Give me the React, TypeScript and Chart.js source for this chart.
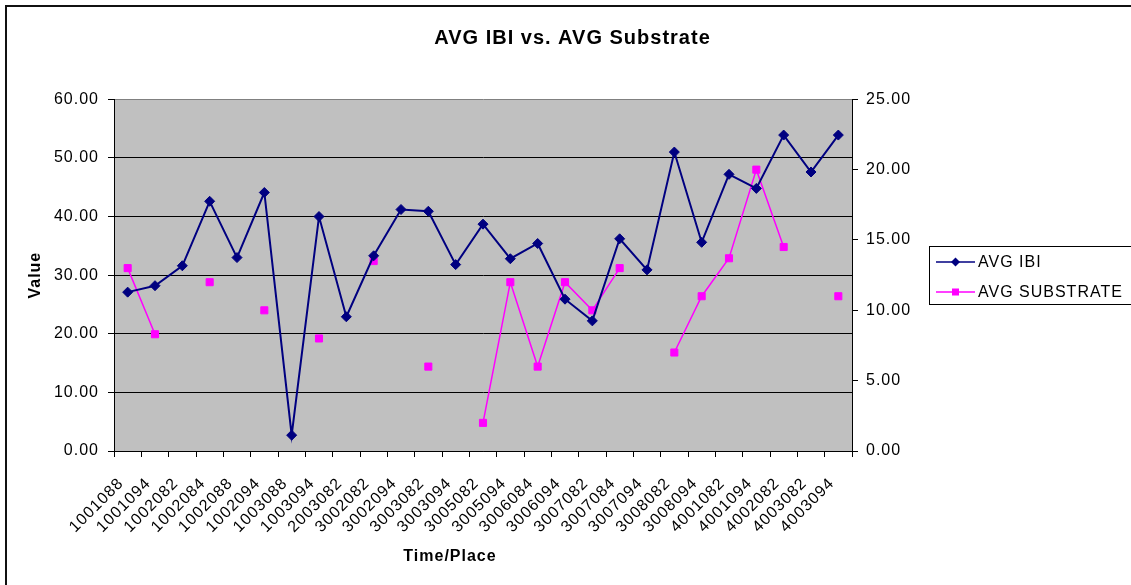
import React, { useEffect, useRef } from "react";
import { Chart, registerables } from "chart.js";

Chart.register(...registerables);

const categories = [
  "1001088", "1001094", "1002082", "1002084", "1002088", "1002094", "1003088",
  "1003094", "2003082", "3002082", "3002094", "3003082", "3003094", "3005082",
  "3005094", "3006084", "3006094", "3007082", "3007084", "3007094", "3008082",
  "3008094", "4001082", "4001094", "4002082", "4003082", "4003094",
];

const avgIbi = [
  27.1, 28.2, 31.6, 42.6, 33.0, 44.1, 2.7, 40.0, 22.9, 33.3, 41.2, 40.9, 31.8, 38.7,
  32.8, 35.4, 25.9, 22.2, 36.2, 30.9, 51.0, 35.6, 47.2, 44.8, 53.9, 47.6, 53.9,
];

const avgSubstrate: (number | null)[] = [
  13.0, 8.3, null, 12.0, null, 10.0, null, 8.0, null, 13.5, null, 6.0, null, 2.0,
  12.0, 6.0, 12.0, 10.0, 13.0, null, 7.0, 11.0, 13.7, 20.0, 14.5, null, 11.0,
];

const leftTicks = { min: 0, max: 60, step: 10 };
const rightTicks = { min: 0, max: 25, step: 5 };

const TITLE = "AVG IBI vs. AVG Substrate";
const X_TITLE = "Time/Place";
const Y_TITLE = "Value";
const FONT = "'Liberation Sans', Arial, sans-serif";
const W = 1131;
const H = 585;

const decor = {
  id: "decor",
  beforeDraw(chart: any) {
    const { ctx, chartArea: a } = chart;
    ctx.letterSpacing = "1px";
    ctx.save();
    ctx.fillStyle = "#ffffff";
    ctx.fillRect(0, 0, W, H);
    ctx.fillStyle = "#C0C0C0";
    ctx.fillRect(a.left, a.top, a.right - a.left, a.bottom - a.top);
    ctx.restore();
  },
  afterDraw(chart: any) {
    const { ctx } = chart;
    ctx.save();
    // outer chart border
    ctx.strokeStyle = "#111";
    ctx.lineWidth = 2;
    ctx.strokeRect(6, 6, 2000, 2000);
    // x axis title
    ctx.fillStyle = "#000";
    ctx.font = `bold 16px ${FONT}`;
    ctx.textAlign = "center";
    ctx.textBaseline = "middle";
    ctx.fillText(X_TITLE, 450, 557);
    // legend
    const bx = 929.5, by = 246.5, bw = 210, bh = 58;
    ctx.fillStyle = "#fff";
    ctx.fillRect(bx, by, bw, bh);
    ctx.strokeStyle = "#000";
    ctx.lineWidth = 1;
    ctx.strokeRect(bx, by, bw, bh);
    const rows = [262, 292];
    chart.data.datasets.forEach((ds: any, i: number) => {
      const y = rows[i];
      ctx.strokeStyle = ds.borderColor;
      ctx.lineWidth = 1.5;
      ctx.beginPath();
      ctx.moveTo(936, y);
      ctx.lineTo(975, y);
      ctx.stroke();
      ctx.fillStyle = ds.borderColor;
      if (ds.pointStyle === "rectRot") {
        ctx.beginPath();
        ctx.moveTo(955.5, y - 4.5);
        ctx.lineTo(960, y);
        ctx.lineTo(955.5, y + 4.5);
        ctx.lineTo(951, y);
        ctx.closePath();
        ctx.fill();
      } else {
        ctx.fillRect(952, y - 3.5, 7, 7);
      }
      ctx.fillStyle = "#000";
      ctx.font = `16px ${FONT}`;
      ctx.textAlign = "left";
      ctx.textBaseline = "middle";
      ctx.fillText(ds.label, 978, y + 1);
    });
    ctx.restore();
  },
};

export default function App() {
  const ref = useRef<HTMLCanvasElement | null>(null);
  useEffect(() => {
    if (!ref.current) return;
    const chart = new Chart(ref.current, {
      type: "line",
      data: {
        labels: categories,
        datasets: [
          {
            label: "AVG IBI",
            data: avgIbi,
            yAxisID: "y",
            borderColor: "#000080",
            backgroundColor: "#000080",
            borderWidth: 2,
            pointStyle: "rectRot",
            pointRadius: 5,
            pointBackgroundColor: "#000080",
            pointBorderColor: "#000080",
            pointBorderWidth: 1,
            tension: 0,
          },
          {
            label: "AVG SUBSTRATE",
            data: avgSubstrate,
            yAxisID: "y1",
            borderColor: "#FF00FF",
            backgroundColor: "#FF00FF",
            borderWidth: 1.5,
            pointStyle: "rect",
            pointRadius: 5,
            pointBackgroundColor: "#FF00FF",
            pointBorderColor: "#FF00FF",
            pointBorderWidth: 1,
            tension: 0,
            spanGaps: false,
          },
        ],
      },
      options: {
        animation: false,
        responsive: false,
        devicePixelRatio: 1,
        layout: { padding: { left: 14, right: 0, top: 0, bottom: 0 } },
        plugins: {
          legend: { display: false },
          tooltip: { enabled: false },
          title: {
            display: true,
            text: TITLE,
            color: "#000",
            font: { family: FONT, size: 20, weight: "bold" },
            padding: { top: 26, bottom: 49.3 },
          },
        },
        scales: {
          x: {
            type: "category",
            offset: true,
            afterFit: (s: any) => {
              s.height = 134;
            },
            grid: {
              offset: true,
              drawOnChartArea: false,
              tickLength: 6,
              color: "#000",
            },
            border: { display: true, color: "#000", width: 1 },
            ticks: {
              autoSkip: false,
              maxRotation: 45,
              minRotation: 45,
              padding: 17,
              labelOffset: -6.5,
              color: "#000",
              font: { family: FONT, size: 16 },
            },
          },
          y: {
            type: "linear",
            position: "left",
            min: leftTicks.min,
            max: leftTicks.max,
            afterFit: (s: any) => {
              s.width = 100;
            },
            grid: {
              color: (c: any) => (c.tick && c.tick.value === leftTicks.max ? "#808080" : "#000"),
              tickColor: "#000",
              tickLength: 6,
              lineWidth: 1,
            },
            border: { display: true, color: "#000", width: 1 },
            ticks: {
              stepSize: leftTicks.step,
              padding: 9,
              color: "#000",
              font: { family: FONT, size: 16 },
              callback: (v: any) => Number(v).toFixed(2),
            },
            title: {
              display: true,
              text: Y_TITLE,
              color: "#000",
              font: { family: FONT, size: 16, weight: "bold" },
              padding: { top: 12, bottom: 0 },
            },
          },
          y1: {
            type: "linear",
            position: "right",
            min: rightTicks.min,
            max: rightTicks.max,
            afterFit: (s: any) => {
              s.width = 279;
            },
            grid: {
              drawOnChartArea: false,
              color: "#000",
              tickLength: 6,
            },
            border: { display: true, color: "#000", width: 1 },
            ticks: {
              stepSize: rightTicks.step,
              padding: 8,
              color: "#000",
              font: { family: FONT, size: 16 },
              callback: (v: any) => Number(v).toFixed(2),
            },
          },
        },
      },
      plugins: [decor],
    });
    return () => chart.destroy();
  }, []);
  return (
    <canvas
      ref={ref}
      width={W}
      height={H}
      style={{ position: "fixed", left: 0, top: 0, width: W, height: H }}
    />
  );
}
